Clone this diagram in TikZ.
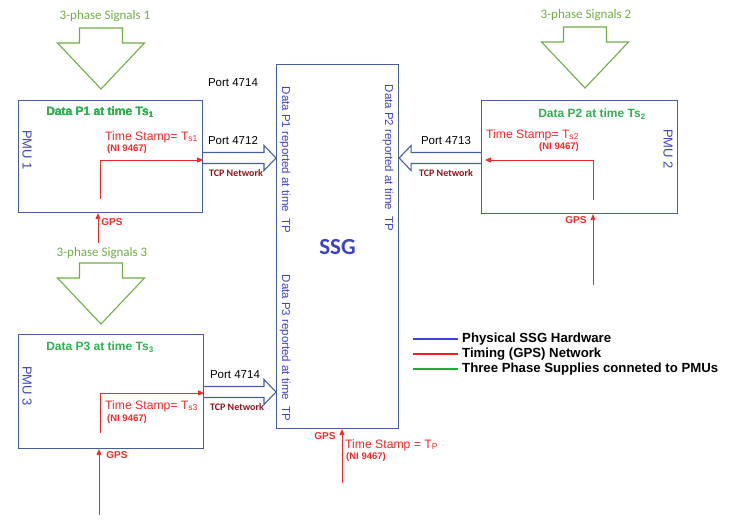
\documentclass[tikz,border=0pt]{standalone}
\usepackage{fontspec}
\setmainfont{Liberation Sans}
\newfontfamily\calfont{Carlito}
\usepackage{tikz}
\usetikzlibrary{positioning, arrows.meta, calc}
\definecolor{boxblue}{RGB}{68,94,158}
\definecolor{txtblue}{RGB}{58,68,196}
\definecolor{siggreen}{RGB}{112,173,71}
\definecolor{datagreen}{RGB}{46,176,80}
\definecolor{gpsred}{RGB}{240,40,40}
\definecolor{tcpred}{RGB}{140,20,30}
\definecolor{legblue}{RGB}{60,70,220}
\definecolor{legred}{RGB}{240,30,30}
\definecolor{leggreen}{RGB}{30,170,60}
% big hollow arrow for the three-phase supply, #1 = top centre
\newcommand{\phasearrow}[1]{\draw[phase, shift={#1}] (-21.5,0) -- (21.5,0) -- (21.5,15) -- (43.5,15)
  -- (0,61) -- (-43.5,15) -- (-21.5,15) -- cycle;}
% hollow data arrow, #1 tail, #2 tip, #3 direction (1 right, -1 left)
\newcommand{\dataarrow}[3]{\draw[data] ($(#1)+(0,-5.5)$) -- ($(#2)+({-12*#3},-5.5)$) -- ($(#2)+({-12*#3},-12.5)$)
  -- (#2) -- ($(#2)+({-12*#3},12.5)$) -- ($(#2)+({-12*#3},5.5)$) -- ($(#1)+(0,5.5)$);}

\begin{document}
\begin{tikzpicture}[x=1pt, y=-1pt,
  pmu/.style={rectangle, draw=boxblue, line width=1.1pt, anchor=north west, inner sep=0pt},
  sig/.style={font=\calfont\fontsize{13}{15}\selectfont, text=siggreen},
  phase/.style={draw=siggreen, line width=1.1pt, line join=miter},
  dlab/.style={font=\bfseries\fontsize{12}{14}\selectfont, text=datagreen, inner sep=0pt},
  pname/.style={font=\fontsize{13}{15}\selectfont, text=txtblue, rotate=-90, inner sep=0pt},
  rep/.style={font=\fontsize{11.5}{13}\selectfont, text=txtblue, rotate=-90, inner sep=0pt},
  ts/.style={font=\fontsize{12.2}{14}\selectfont, text=gpsred, anchor=west, inner sep=0pt},
  ni/.style={font=\bfseries\fontsize{9.5}{11}\selectfont, text=gpsred, anchor=west, inner sep=0pt},
  gpsl/.style={font=\bfseries\fontsize{10}{12}\selectfont, text=gpsred, inner sep=0pt},
  port/.style={font=\fontsize{11.5}{13}\selectfont, inner sep=0pt},
  tcp/.style={font=\calfont\bfseries\fontsize{10}{12}\selectfont, text=tcpred, inner sep=0pt},
  data/.style={draw=boxblue, line width=1.1pt, line join=miter},
  timing/.style={draw=gpsred, line width=0.8pt, -{Triangle[length=6pt, width=5pt]}},
  leg/.style={font=\bfseries\fontsize{13.2}{15}\selectfont, anchor=west, inner sep=0pt}]
\useasboundingbox (0,0) rectangle (741,519);
% --- boxes ---
\node[pmu, minimum width=184pt, minimum height=112pt] (pmuA) at (18,100) {};
\node[pmu, minimum width=196pt, minimum height=113pt] (pmuB) at (481,100) {};
\node[pmu, minimum width=185pt, minimum height=114pt] (pmuC) at (18,334) {};
\node[pmu, minimum width=122pt, minimum height=364pt, font=\calfont\bfseries\fontsize{23}{26}\selectfont,
      text=txtblue] (ssg) at (276,64) {SSG};
% --- three-phase supplies ---
\node[sig] (sigA) at (105,16) {3-phase Signals 1};
\node[sig] (sigB) at (586,15) {3-phase Signals 2};
\node[sig] (sigC) at (102,253) {3-phase Signals 3};
\foreach \p in {(101,28),(585,27),(101,263)} \phasearrow{\p}
% --- PMU texts ---
\node[dlab] (dataA) at (100,112) {Data P1 at time Ts\textsubscript{1}};
\node[dlab] (dataB) at (592,114) {Data P2 at time Ts\textsubscript{2}};
\node[dlab] (dataC) at (100,347) {Data P3 at time Ts\textsubscript{3}};
\node[pname] (nameA) at (27,150) {PMU 1};
\node[pname] (nameB) at (668,149) {PMU 2};
\node[pname] (nameC) at (27,386) {PMU 3};
\node[ts] (tsA) at (105,137) {Time Stamp= T\textsubscript{s1}};
\node[ni] (niA) at (107,149) {(NI 9467)};
\node[ts] (tsB) at (486,135) {Time Stamp= T\textsubscript{s2}};
\node[ni] (niB) at (539,147) {(NI 9467)};
\node[ts] (tsC) at (105,406) {Time Stamp= T\textsubscript{s3}};
\node[ni] (niC) at (107,419) {(NI 9467)};
% --- SSG texts ---
\node[rep] (repA) at (285,160) {Data P1 reported at time~ TP};
\node[rep] (repB) at (388,158) {Data P2 reported at time~ TP};
\node[rep] (repC) at (285,348) {Data P3 reported at time~ TP};
\node[ts] (tsP) at (345,445) {Time Stamp = T\textsubscript{P}};
\node[ni] (niP) at (346,457) {(NI 9467)};
% --- ports and network ---
\node[port] (portTop) at (233,83) {Port 4714};
\node[port] (portA) at (233,141) {Port 4712};
\node[port] (portB) at (446,141) {Port 4713};
\node[port] (portC) at (235,375) {Port 4714};
\node[tcp] (tcpA) at (236,173) {TCP Network};
\node[tcp] (tcpB) at (446,173) {TCP Network};
\node[tcp] (tcpC) at (237,407) {TCP Network};
\coordinate (tailA) at (pmuA.east |- 0,158);
\coordinate (tailB) at (pmuB.west |- 0,158);
\coordinate (tailC) at (pmuC.east |- 0,392);
\coordinate (tipA) at (ssg.west |- tailA);
\coordinate (tipB) at (ssg.east |- tailB);
\coordinate (tipC) at (ssg.west |- tailC);
\dataarrow{tailA}{tipA}{1}
\dataarrow{tailB}{tipB}{-1}
\dataarrow{tailC}{tipC}{1}
% --- timing (GPS) ---
\coordinate (inA) at (100,199);
\coordinate (inB) at (593,200);
\coordinate (inC) at (100,433);
\draw[timing] (inA) |- (pmuA.east |- 0,160);
\draw[timing] (inB) |- ([xshift=4pt]pmuB.west |- 0,160);
\draw[timing] (inC) |- (pmuC.east |- 0,393);
\coordinate (gpsA) at (98,243);
\coordinate (gpsB) at (593,285);
\coordinate (gpsC) at (99,515);
\coordinate (gpsP) at (342,483);
\foreach \g/\b in {gpsA/pmuA, gpsB/pmuB, gpsC/pmuC, gpsP/ssg} \draw[timing] (\g) -- (\b.south -| \g);
\node[gpsl] (glA) at (112,222) {GPS};
\node[gpsl] (glB) at (576,220) {GPS};
\node[gpsl] (glC) at (117,455) {GPS};
\node[gpsl] (glP) at (325,436) {GPS};
% --- legend ---
\foreach \c/\t/\y [count=\i] in {legblue/Physical SSG Hardware/339, legred/Timing (GPS) Network/354,
                                  leggreen/Three Phase Supplies conneted to PMUs/369} {
  \node[leg] (leg\i) at (462,\y) {\t};
  \coordinate (legs\i) at (413,\y);
  \draw[\c, line width=2.2pt] (legs\i) -- ([xshift=-4pt]leg\i.west);
}
\end{tikzpicture}
\end{document}
